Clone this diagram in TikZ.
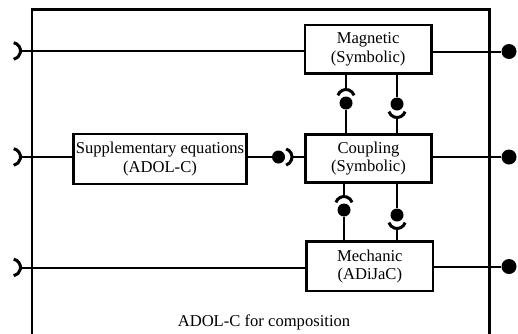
\documentclass[tikz,border=0pt]{standalone}
\usepackage{fontspec}
\setmainfont{Liberation Serif}
\usetikzlibrary{calc}
\begin{document}
\begin{tikzpicture}[x=1pt,y=-1pt,
  box/.style={draw, line width=2.8pt, inner sep=0pt, align=center,
    font=\fontsize{16.6}{18.4}\selectfont},
  wire/.style={line width=2pt},
  frame/.style={line width=2.3pt},
  ball/.style={circle, fill=black, draw=none, inner sep=0pt, minimum size=13pt},
  bigball/.style={circle, fill=black, draw=none, inner sep=0pt, minimum size=15pt},
  socket/.style={line width=3pt},
  lbl/.style={font=\fontsize{16.6}{18.4}\selectfont, anchor=base, inner sep=0pt},
]
\useasboundingbox (0,0) rectangle (518,333);

% outer frame (open at the bottom)
\coordinate (fbl) at (32,334);
\coordinate (ftl) at (32,9.5);
\coordinate (ftr) at (489.5,9.5);
\coordinate (fbr) at (489.5,334);
\draw[frame] (fbl) -- (ftl) -- (ftr) -- (fbr);

% boxes
\node[box, minimum width=126.3pt, minimum height=48.3pt] (Magnetic) at (368.1,49.2) {Magnetic\\(Symbolic)};
\node[box, minimum width=125.6pt, minimum height=48pt] (Coupling) at (368.5,158.3) {Coupling\\(Symbolic)};
\node[box, minimum width=126.3pt, minimum height=49.7pt] (Mechanic) at (369.8,266.2) {Mechanic\\(ADiJaC)};
\node[box, minimum width=173.3pt, minimum height=50pt] (Supp) at (160,159) {Supplementary equations\\(ADOL-C)};

\node[lbl] (title) at (264,326.5) {ADOL-C for composition};

% left input sockets
\coordinate (l1) at (20.5,51);
\coordinate (l2) at (20.5,157);
\coordinate (l3) at (20.5,267.5);
\foreach \p in {l1,l2,l3}{
  \draw[socket] ($(\p)+(-8.5,0)$) ++(-78:8.5) arc[start angle=-78, end angle=78, radius=8.5];
}
\draw[wire] (l1) -- (l1 -| Magnetic.west);
\draw[wire] (l2) -- (l2 -| Supp.west);
\draw[wire] (l3) -- (l3 -| Mechanic.west);

% right output balls
\node[bigball] (r1) at (509,51.5) {};
\node[bigball] (r2) at (509,157) {};
\node[bigball] (r3) at (509,266.5) {};
\draw[wire] (r1 -| Magnetic.east) -- (r1);
\draw[wire] (r2 -| Coupling.east) -- (r2);
\draw[wire] (r3 -| Mechanic.east) -- (r3);

% Supplementary -> Coupling
\node[ball] (b5) at (278.5,157) {};
\coordinate (s5) at (292,157);
\draw[socket] ($(s5)+(-8.5,0)$) ++(-72:8.5) arc[start angle=-72, end angle=72, radius=8.5];
\draw[wire] (b5 -| Supp.east) -- (b5);
\draw[wire] (s5) -- (s5 -| Coupling.west);

% Magnetic <-> Coupling
\node[ball] (b1) at (346,103) {};
\coordinate (s1) at (346,89.5);
\draw[socket] ($(s1)+(0,8.5)$) ++(-162:8.5) arc[start angle=-162, end angle=-18, radius=8.5];
\draw[wire] (Magnetic.south -| s1) -- (s1);
\draw[wire] (b1) -- (Coupling.north -| b1);

\node[ball] (b2) at (397,104) {};
\coordinate (s2) at (397,117.5);
\draw[socket] ($(s2)+(0,-8.5)$) ++(18:8.5) arc[start angle=18, end angle=162, radius=8.5];
\draw[wire] (Magnetic.south -| b2) -- (b2);
\draw[wire] (s2) -- (Coupling.north -| s2);

% Coupling <-> Mechanic
\node[ball] (b3) at (344,210) {};
\coordinate (s3) at (344,196.5);
\draw[socket] ($(s3)+(0,8.5)$) ++(-162:8.5) arc[start angle=-162, end angle=-18, radius=8.5];
\draw[wire] (Coupling.south -| s3) -- (s3);
\draw[wire] (b3) -- (Mechanic.north -| b3);

\node[ball] (b4) at (397,215) {};
\coordinate (s4) at (397,228.5);
\draw[socket] ($(s4)+(0,-8.5)$) ++(18:8.5) arc[start angle=18, end angle=162, radius=8.5];
\draw[wire] (Coupling.south -| b4) -- (b4);
\draw[wire] (s4) -- (Mechanic.north -| s4);
\end{tikzpicture}
\end{document}
